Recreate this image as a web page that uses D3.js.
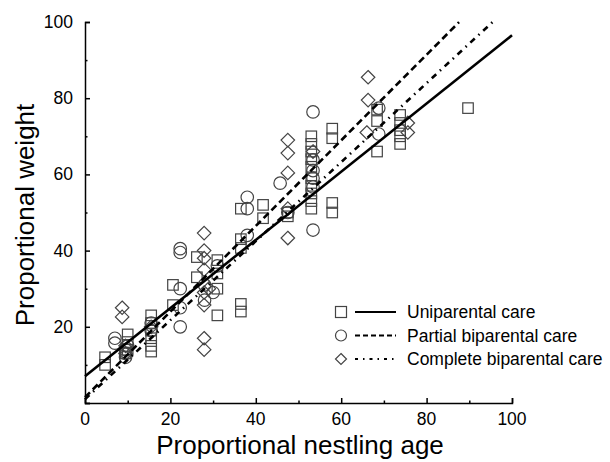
<!DOCTYPE html>
<html>
<head>
<meta charset="utf-8" />
<title>Proportional weight</title>
<script src="https://d3js.org/d3.v7.min.js"></script>
<style>
body { margin: 0; background: #fff; }
svg text { font-family: Arial, "Liberation Sans", sans-serif; fill: #000; }
.pt { fill: none; stroke: #444; stroke-width: 1.2; }
</style>
</head>
<body>
<div id="viz"></div>
<script>

// squares: uniparental care
var uniX = [4.7, 4.7, 10, 10, 10, 9.5,
  15.5, 15.5, 15.5, 15.5, 15.5, 15.5,
  20.6, 20.6,
  26.2, 26.2, 31, 31, 31, 31,
  36.5, 36.5, 36.5, 36.5, 36.5,
  41.7, 41.7,
  47.5, 47.5,
  53, 53, 53, 53, 53, 53, 53, 53, 53, 53,
  57.9, 57.9, 57.9, 57.9,
  68.4, 68.4, 68.4,
  73.8, 73.8, 73.8, 73.8, 73.8,
  89.7];
var uniY = [12, 10, 18, 16, 14, 13,
  23, 21, 19, 17, 15, 13.5,
  31, 25.7,
  38.3, 33, 37.5, 34, 30, 23,
  51, 43, 40.7, 26, 24,
  52, 48.5,
  50, 49,
  70, 68, 66, 64, 62, 59, 57, 55, 53, 51,
  72, 69.5, 52.5, 50,
  77, 74, 66,
  75.6, 73.5, 71.6, 70, 68,
  77.4];

// circles: partial biparental care
var partX = [7, 7, 9.5, 9.5, 9.5, 10,
  15.5, 15.5,
  22.3, 22.3, 22.3, 22.3, 22.3,
  28, 28, 30, 31,
  38, 38, 38,
  45.7, 47.5,
  53.4, 53.4, 53.4, 53.4, 53.4, 53.4,
  68.8, 68.8];
var partY = [17, 15.7, 14, 13, 12, 15,
  21, 19,
  40.5, 39.5, 30, 25, 20,
  31, 27, 29, 36,
  54, 51, 44,
  57.7, 50,
  76.4, 63.8, 61, 59, 56.7, 45.4,
  77.4, 70.6];

// diamonds: complete biparental care
var compX = [8.7, 8.7, 9.5, 9.5,
  15.5,
  27.9, 27.9, 27.9, 27.9, 27.9, 27.9, 27.9, 27.9, 29,
  47.5, 47.5, 47.5, 47.5, 47.5,
  53.4,
  66.3, 66.3, 66,
  75.6, 75.6];
var compY = [25, 22.6, 15, 13,
  20,
  44.6, 40, 38, 35, 29, 25.7, 17, 14, 30,
  69, 65.6, 60.4, 51, 43.3,
  66,
  85.5, 79.5, 71,
  73.5, 71];

// fitted lines
var groups = ["Uniparental care", "Partial biparental care", "Complete biparental care"];
var fitIntercept = [7, 1.5, 1];
var fitSlope = [0.895, 1.124, 1.037];
var fitXmax = [100, 87.6, 95.5];

var xTicks = [0, 20, 40, 60, 80, 100];
var yTicks = [20, 40, 60, 80, 100];

var W = 610, H = 462;
var x = d3.scaleLinear().domain([0, 100]).range([85, 512]);
var y = d3.scaleLinear().domain([0, 100]).range([403, 22]);

var svg = d3.select("#viz").append("svg")
    .attr("width", W)
    .attr("height", H);

var dashes = [null, "7,4", "6,5,1.5,5"];

function zip(xs, ys) {
  return xs.map(function(v, i) { return [v, ys[i]]; });
}

// markers
function square(g, px, py, s) {
  g.append("rect").attr("class", "pt")
    .attr("x", px - s / 2).attr("y", py - s / 2)
    .attr("width", s).attr("height", s);
}
function circle(g, px, py, s) {
  g.append("circle").attr("class", "pt")
    .attr("cx", px).attr("cy", py).attr("r", s / 2);
}
function diamond(g, px, py, s) {
  var h = s / 2;
  g.append("path").attr("class", "pt")
    .attr("d", "M" + px + "," + (py - h) + "L" + (px + h) + "," + py +
      "L" + px + "," + (py + h) + "L" + (px - h) + "," + py + "Z");
}
var shapes = [square, circle, diamond];
var sizes = [10.5, 12.5, 13.5];

var pts = svg.append("g");
[zip(uniX, uniY), zip(partX, partY), zip(compX, compY)].forEach(function(data, k) {
  data.forEach(function(d) {
    shapes[k](pts, x(d[0]), y(d[1]), sizes[k]);
  });
});

// regression lines
var line = d3.line().x(function(d) { return x(d[0]); }).y(function(d) { return y(d[1]); });
groups.forEach(function(gname, k) {
  var xs = [0, fitXmax[k]];
  svg.append("path")
    .attr("d", line(xs.map(function(v) { return [v, fitIntercept[k] + fitSlope[k] * v]; })))
    .attr("fill", "none")
    .attr("stroke", "#000")
    .attr("stroke-width", 2.6)
    .attr("stroke-dasharray", dashes[k]);
});

// axes
var xAxis = svg.append("g")
    .attr("transform", "translate(0," + y(0) + ")")
    .call(d3.axisBottom(x).tickValues(d3.range(0, 101, 10)).tickSize(-5).tickFormat(""));
var yAxis = svg.append("g")
    .attr("transform", "translate(" + x(0) + ",0)")
    .call(d3.axisLeft(y).tickValues(d3.range(0, 101, 10)).tickSize(-5).tickFormat(""));
[xAxis, yAxis].forEach(function(a) {
  a.select(".domain").attr("stroke", "#000").attr("stroke-width", 1.5);
  a.selectAll(".tick line").attr("stroke", "#000").attr("stroke-width", 1.5)
    .attr(a === xAxis ? "y2" : "x2", function(d) { return d % 20 === 0 ? (a === xAxis ? -5 : 5) : (a === xAxis ? -2.5 : 2.5); });
});

svg.append("g").selectAll("text").data(xTicks).enter().append("text")
    .attr("x", function(d) { return x(d); })
    .attr("y", y(0) + 22)
    .attr("text-anchor", "middle")
    .attr("font-size", 17.5)
    .text(function(d) { return d; });

svg.append("g").selectAll("text").data(yTicks).enter().append("text")
    .attr("x", x(0) - 12)
    .attr("y", function(d) { return y(d) + 6; })
    .attr("text-anchor", "end")
    .attr("font-size", 17.5)
    .text(function(d) { return d; });

svg.append("text")
    .attr("x", 300)
    .attr("y", 454)
    .attr("text-anchor", "middle")
    .attr("font-size", 26)
    .text("Proportional nestling age");

svg.append("text")
    .attr("transform", "translate(34,215) rotate(-90)")
    .attr("text-anchor", "middle")
    .attr("font-size", 26)
    .text("Proportional weight");

// legend
var leg = svg.append("g");
groups.forEach(function(gname, k) {
  var ly = 312 + k * 23.5;
  shapes[k](leg, 341, ly, 11);
  leg.append("line")
    .attr("x1", 355).attr("x2", 396)
    .attr("y1", ly).attr("y2", ly)
    .attr("stroke", "#000")
    .attr("stroke-width", 2.2)
    .attr("stroke-dasharray", dashes[k] ? (k === 1 ? "5,3" : "3,5,1.5,5") : null);
  leg.append("text")
    .attr("x", 407)
    .attr("y", ly + 6)
    .attr("font-size", 17.5)
    .text(gname);
});

</script>
</body>
</html>
